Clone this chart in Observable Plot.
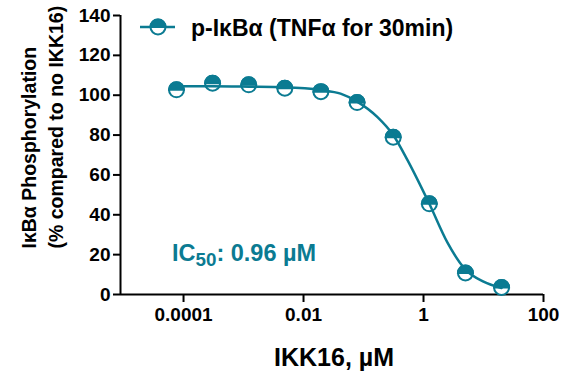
<!DOCTYPE html>
<html>
<head>
<meta charset="utf-8">
<script src="https://cdn.jsdelivr.net/npm/d3@7"></script>
<script src="https://cdn.jsdelivr.net/npm/@observablehq/plot@0.6"></script>
<style>
  body { margin: 0; background: white; }
  #wrap { position: relative; width: 576px; height: 375px; font-family: "Liberation Sans", Arial, sans-serif; }
  .ov { position: absolute; font-weight: bold; white-space: nowrap; line-height: 22px; }
  sub { font-size: 0.8em; vertical-align: -0.28em; line-height: 0; }
</style>
</head>
<body>
<div id="wrap"></div>
<script>
// ---- data ----
const concentrations = [0.0000763, 0.000305, 0.00122, 0.00488, 0.0195, 0.0781, 0.3125, 1.25, 5, 20]; // µM
const phosphorylation = [102.7, 106, 105.2, 103.5, 101.8, 96.3, 78.9, 45.5, 10.8, 3.5]; // % of no IKK16
const fitConcentrations = [0.0000763, 0.000305, 0.00122, 0.00488, 0.0195, 0.0414, 0.0781, 0.171, 0.3125, 0.541, 1.25, 2.51, 5, 10, 20];
const fitValues = [104.5, 104.5, 104.3, 104, 102.6, 100.8, 96.8, 89, 80, 67.4, 45.5, 26, 12.5, 6.5, 3.3];
const xTicks = [0.0001, 0.01, 1, 100];
const xTickLabels = ["0.0001", "0.01", "1", "100"];
const yTicks = [0, 20, 40, 60, 80, 100, 120, 140];
const seriesName = "p-IκBα (TNFα for 30min)";
const xTitle = "IKK16, µM";
const yTitle = "IκBα Phosphorylation\n(% compared to no IKK16)";
const ic50Label = "0.96 µM";

const teal = "#0b7b92";
const points = concentrations.map((c, i) => ({c, v: phosphorylation[i]}));
const fit = fitConcentrations.map((c, i) => ({c, v: fitValues[i]}));

const halfTop = {
  draw(context, size) {
    const r = Math.sqrt(size / Math.PI);
    context.moveTo(r, 0);
    context.arc(0, 0, r, 0, Math.PI, true);
    context.closePath();
  }
};

const chart = Plot.plot({
  width: 576,
  height: 375,
  marginLeft: 120,
  marginRight: 33,
  marginTop: 15,
  marginBottom: 81,
  style: {fontFamily: "'Liberation Sans', Arial, sans-serif", background: "white", color: "black"},
  x: {type: "log", domain: [8.9e-6, 100]},
  y: {domain: [0, 140]},
  marks: [
    Plot.axisY({ticks: yTicks, tickSize: 7, tickPadding: 3, fontSize: 19, fontWeight: "bold", strokeWidth: 2, label: null}),
    Plot.axisX({ticks: xTicks, tickFormat: d => xTickLabels[xTicks.indexOf(d)], tickSize: 8, tickPadding: 5, fontSize: 19, fontWeight: "bold", strokeWidth: 2, label: null}),
    Plot.ruleY([0], {strokeWidth: 2}),
    Plot.ruleX([8.9e-6], {strokeWidth: 2}),
    Plot.dot(points, {x: "c", y: "v", r: 7.5, fill: "white", stroke: teal, strokeWidth: 2}),
    Plot.dot(points, {x: "c", y: "v", r: 7.5, symbol: halfTop, fill: teal, stroke: teal, strokeWidth: 2}),
    Plot.line(fit, {x: "c", y: "v", stroke: teal, strokeWidth: 2.5, curve: "monotone-x"}),
    Plot.text([xTitle], {text: d => d, frameAnchor: "bottom", dy: 63, dx: 2, fontSize: 25, fontWeight: "bold", lineAnchor: "middle"}),
    Plot.text([yTitle], {text: d => d, frameAnchor: "left", rotate: -90, dx: -80, dy: 93.5, textAnchor: "start", lineAnchor: "middle", lineHeight: 1.38, fontSize: 19.5, fontWeight: "bold"})
  ]
});

const wrap = document.getElementById("wrap");
wrap.appendChild(chart);

const legend = document.createElement("div");
legend.className = "ov";
legend.style.left = "138px";
legend.style.top = "17px";
legend.innerHTML = `<svg width="40" height="20" style="position:absolute;left:0;top:0">
  <line x1="2" x2="37" y1="10" y2="10" stroke="${teal}" stroke-width="2.5"/>
  <circle cx="20" cy="10" r="7.5" fill="white" stroke="${teal}" stroke-width="2"/>
  <path d="M27.5,10 A7.5,7.5 0 0 0 12.5,10 Z" fill="${teal}" stroke="${teal}" stroke-width="2"/>
</svg><span style="position:absolute;left:53px;top:0px;font-size:23px;color:black">${seriesName}</span>`;
wrap.appendChild(legend);

const ic = document.createElement("div");
ic.className = "ov";
ic.style.left = "172px";
ic.style.top = "242px";
ic.style.fontSize = "23.5px";
ic.style.color = teal;
ic.innerHTML = `IC<sub>50</sub>: ${ic50Label}`;
wrap.appendChild(ic);
</script>
</body>
</html>
